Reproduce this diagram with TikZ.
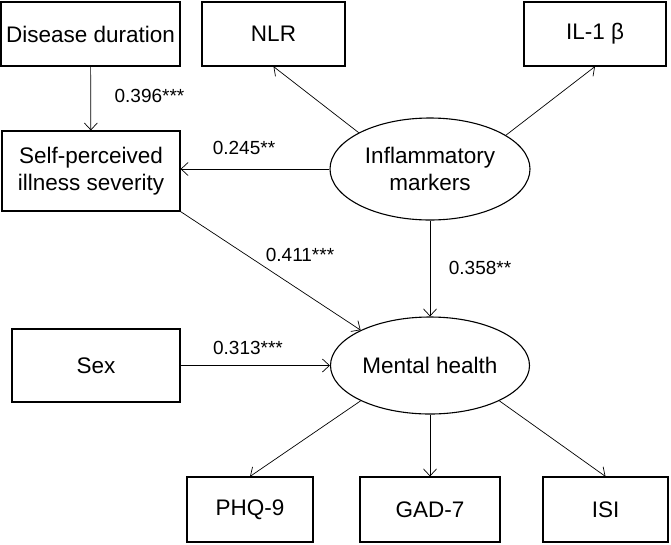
\documentclass[tikz,border=0pt]{standalone}
\usepackage{fontspec}
\setmainfont{Liberation Sans}
\usetikzlibrary{shapes.geometric,arrows.meta}
\tikzset{
  obs/.style={draw, line width=1.1pt, inner sep=0pt, font=\fontsize{22.5}{27}\selectfont, align=center},
  latent/.style={draw, ellipse, line width=1.1pt, inner sep=0pt, font=\fontsize{22.5}{27}\selectfont, align=center},
  path/.style={line width=0.7pt, -{Straight Barb[length=7pt,width=13pt]}},
  coef/.style={font=\fontsize{19}{22}\selectfont, inner sep=0pt}
}
\begin{document}
\begin{tikzpicture}[x=1pt,y=-1pt]
\useasboundingbox (0,0) rectangle (671,544);

% observed variables
\node [obs, minimum width=179pt, minimum height=64pt] (dur) at (90.5,34) {Disease duration};
\node [obs, minimum width=143pt, minimum height=64pt] (nlr) at (273.5,34) {NLR};
\node [obs, minimum width=142pt, minimum height=64pt] (il) at (595,34) {IL-1 β};
\node [obs, minimum width=178pt, minimum height=80pt] (self) at (91,171) {Self-perceived\\illness severity};
\node [obs, minimum width=168pt, minimum height=73pt] (sex) at (96,365.5) {Sex};
\node [obs, minimum width=126pt, minimum height=65pt] (phq) at (250,509.5) {PHQ-9};
\node [obs, minimum width=140pt, minimum height=65pt] (gad) at (430,509.5) {GAD-7};
\node [obs, minimum width=125pt, minimum height=65pt] (isi) at (605.5,509.5) {ISI};

% latent variables
\node [latent, minimum width=200pt, minimum height=102pt] (infl) at (430,169) {Inflammatory\\markers};
\node [latent, minimum width=199pt, minimum height=97pt] (mh) at (430,365.5) {Mental health};

% paths
\draw [path] (dur) -- (self);
\draw [path] (infl.west) -- (infl.west -| self.east);
\draw [path] (infl.153) -- (nlr.south);
\draw [path] (infl.24) -- (il.south);
\draw [path] (infl.south) -- (mh.north);
\draw [path] (self.south east) -- (mh.153);
\draw [path] (sex.east) -- (sex.east -| mh.west);
\draw [path] (mh.207) -- (phq.north);
\draw [path] (mh.south) -- (gad.north);
\draw [path] (mh.333) -- (isi.north);

% coefficients
\node [coef] (c1) at (149.5,96) {0.396***};
\node [coef] (c2) at (244,148) {0.245**};
\node [coef] (c3) at (300,255) {0.411***};
\node [coef] (c4) at (480,268) {0.358**};
\node [coef] (c5) at (248,348) {0.313***};

\end{tikzpicture}
\end{document}
